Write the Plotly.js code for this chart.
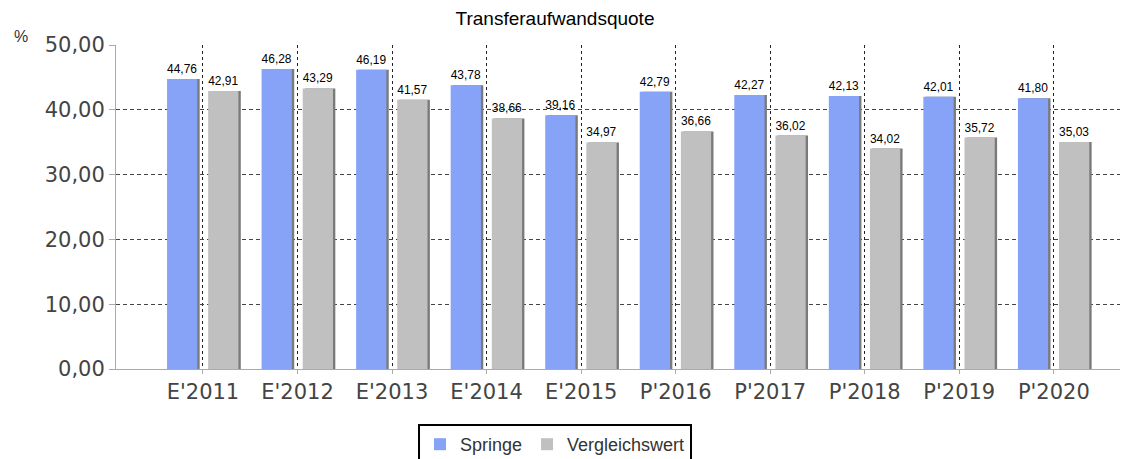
<!DOCTYPE html>
<html><head><meta charset="utf-8">
<script src="https://cdn.plot.ly/plotly-3.0.1.min.js"></script>
<style>html,body{margin:0;padding:0;background:#fff}#c{width:1136px;height:459px}</style>
</head><body><div id="c"></div>
<script>
const categories = ["E'2011","E'2012","E'2013","E'2014","E'2015","P'2016","P'2017","P'2018","P'2019","P'2020"];
const springe = [44.76,46.28,46.19,43.78,39.16,42.79,42.27,42.13,42.01,41.80];
const vergleich = [42.91,43.29,41.57,38.66,34.97,36.66,36.02,34.02,35.72,35.03];
const yTicks = [0,10,20,30,40,50];

const fmt = v => v.toFixed(2).replace('.', ',');
const W = 0.32;
const shadowShift = 0.025;

const shadowBlue = {type:'bar', x:categories, y:springe, width:W, offset:-0.38+shadowShift,
  marker:{color:'#7a7a7a', line:{width:0}}, showlegend:false, hoverinfo:'skip'};
const shadowGray = {type:'bar', x:categories, y:vergleich, width:W, offset:0.055+shadowShift,
  marker:{color:'#7a7a7a', line:{width:0}}, showlegend:false, hoverinfo:'skip'};
const tBlue = {type:'bar', name:'Springe', x:categories, y:springe, width:W, offset:-0.38,
  marker:{color:'#87a3f7', line:{width:0}},
  text:springe.map(fmt), textposition:'outside', cliponaxis:false,
  textfont:{family:'Arial', size:12, color:'#000'}};
const tGray = {type:'bar', name:'Vergleichswert', x:categories, y:vergleich, width:W, offset:0.055,
  marker:{color:'#c0c0c0', line:{width:0}},
  text:vergleich.map(fmt), textposition:'outside', cliponaxis:false,
  textfont:{family:'Arial', size:12, color:'#000'}};

const layout = {
  width:1136, height:459,
  margin:{l:116, r:16, t:45, b:90, autoexpand:false},
  paper_bgcolor:'#fff', plot_bgcolor:'#fff',
  barmode:'overlay',
  separators:',.',
  title:{text:'Transferaufwandsquote', x:555/1136, xanchor:'center', y:1-18/459, yref:'container', yanchor:'middle',
    font:{family:'Arial', size:19, color:'#000'}},
  xaxis:{type:'category', range:[-0.92, 9.7], showgrid:true, gridcolor:'#222', griddash:'3px,3px', gridwidth:1,
    showline:true, linecolor:'#aaa', linewidth:1, ticks:'outside', ticklen:4, tickcolor:'#aaa',
    tickfont:{family:'DejaVu Sans', size:21, color:'#444'}, zeroline:false, automargin:false},
  yaxis:{range:[0,50], tickvals:yTicks, ticktext:yTicks.map(fmt), showgrid:true, gridcolor:'#444',
    griddash:'4px,3px', gridwidth:1, showline:true, linecolor:'#aaa', linewidth:1, ticks:'outside', ticklen:6,
    tickcolor:'#aaa', tickfont:{family:'DejaVu Sans', size:21, color:'#444'}, zeroline:false, automargin:false},
  showlegend:true,
  legend:{orientation:'h', xref:'container', x:555/1136, xanchor:'center', yref:'container', y:(459-424)/459, yanchor:'top',
    bordercolor:'#000', borderwidth:2, font:{family:'Arial', size:18, color:'#333'},
    traceorder:'normal'},
  annotations:[{text:'%', xref:'paper', yref:'paper', x:(21-116)/1004, y:(369-37)/324, xanchor:'center', yanchor:'middle',
    showarrow:false, font:{family:'Arial', size:16, color:'#333'}}]
};
Plotly.newPlot('c', [shadowBlue, shadowGray, tBlue, tGray], layout, {displayModeBar:false, staticPlot:true});
</script></body></html>
